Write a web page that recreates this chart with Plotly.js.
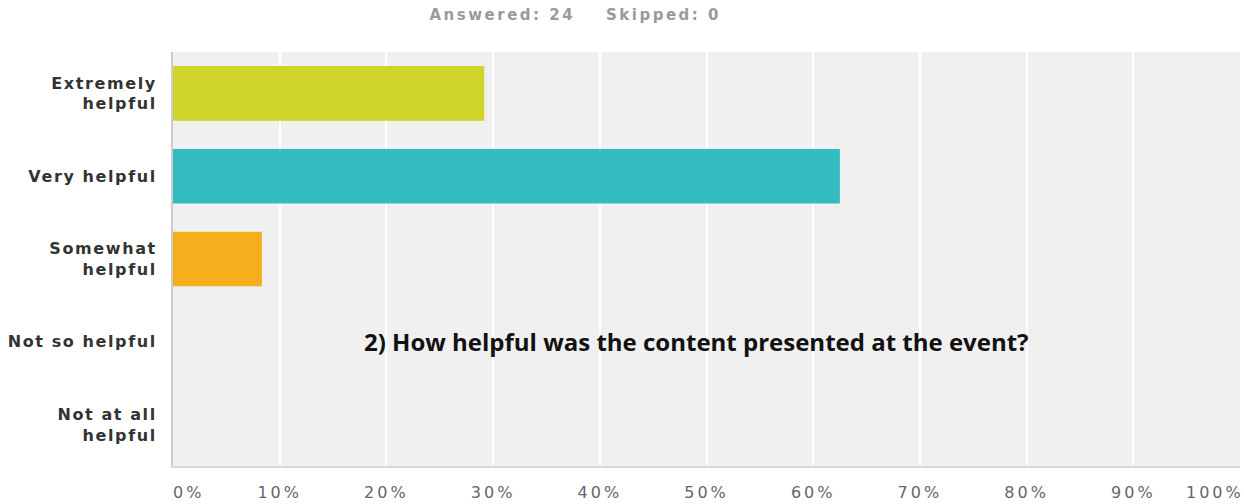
<!DOCTYPE html>
<html>
<head>
<meta charset="utf-8">
<script src="https://cdn.plot.ly/plotly-3.0.1.min.js"></script>
<style>
html,body{margin:0;padding:0;background:#fff;}
#chart{width:1244px;height:504px;}
#chart .ytick text{letter-spacing:1.6px;}
#chart .xtick text{letter-spacing:3px;}
#chart .annotation[data-index="0"] text{letter-spacing:3px;}
#chart .annotation[data-index="1"] text{letter-spacing:3px;}
#chart .annotation[data-index="2"] text{letter-spacing:2.5px;}
</style>
</head>
<body>
<div id="chart"></div>
<script>
// Data
var categories = ["Extremely<br>helpful", "Very helpful", "Somewhat<br>helpful", "Not so helpful", "Not at all<br>helpful"];
var percentValues = [29.17, 62.50, 8.33, 0, 0];
var barColors = ["#cfd42a", "#33bcbf", "#f6ae1e", "#cccccc", "#cccccc"];
var tickValues = [10, 20, 30, 40, 50, 60, 70, 80, 90];
var tickLabels = ["10%", "20%", "30%", "40%", "50%", "60%", "70%", "80%", "90%"];
var firstTickValue = 0;
var firstTickLabel = "0%";
var lastTickValue = 100;
var lastTickLabel = "100%";
var subtitleText = "Answered: 24\u00a0\u00a0\u00a0\u00a0Skipped: 0";
var titleText = "2) How helpful was the content presented at the event?";

var trace = {
  type: "bar",
  orientation: "h",
  y: categories,
  x: percentValues,
  marker: {color: barColors},
  width: 0.66,
  hoverinfo: "none"
};

var layout = {
  width: 1244,
  height: 504,
  margin: {l: 173, r: 4, t: 52, b: 38},
  paper_bgcolor: "#ffffff",
  plot_bgcolor: "#f0f0f0",
  showlegend: false,
  xaxis: {
    range: [0, 100],
    tickvals: tickValues,
    ticktext: tickLabels,
    showgrid: true,
    gridcolor: "#ffffff",
    gridwidth: 2,
    zeroline: false,
    showline: true,
    linecolor: "#d8d8d8",
    linewidth: 2,
    ticks: "outside",
    ticklen: 11,
    tickcolor: "rgba(0,0,0,0)",
    tickfont: {family: "DejaVu Sans", size: 16, color: "#666666"},
    fixedrange: true
  },
  yaxis: {
    categoryorder: "array",
    categoryarray: categories.slice().reverse(),
    showgrid: false,
    zeroline: false,
    showline: true,
    linecolor: "#cccccc",
    linewidth: 2,
    ticks: "",
    ticklabelstandoff: 11,
    tickfont: {family: "DejaVu Sans", size: 16, color: "#333333", weight: "bold"},
    fixedrange: true
  },
  annotations: [
    {
      xref: "x", yref: "paper",
      x: firstTickValue, y: 0,
      yshift: -26, xshift: 1,
      text: firstTickLabel,
      showarrow: false,
      xanchor: "left", yanchor: "middle",
      font: {family: "DejaVu Sans", size: 16, color: "#666666"}
    },
    {
      xref: "x", yref: "paper",
      x: lastTickValue, y: 0,
      yshift: -26,
      text: lastTickLabel,
      showarrow: false,
      xanchor: "right", yanchor: "middle",
      font: {family: "DejaVu Sans", size: 16, color: "#666666"}
    },
    {
      xref: "paper", yref: "paper",
      x: 0.377, y: 1,
      yshift: 37,
      text: subtitleText,
      showarrow: false,
      xanchor: "center", yanchor: "middle",
      font: {family: "DejaVu Sans", size: 15, color: "#9a9a9a", weight: "bold"}
    },
    {
      xref: "paper", yref: "paper",
      x: 0.491, y: 0.30,
      text: titleText,
      showarrow: false,
      xanchor: "center", yanchor: "middle",
      font: {family: "Open Sans", size: 24, color: "#111111", weight: "bold"}
    }
  ]
};

Plotly.newPlot("chart", [trace], layout, {displayModeBar: false, staticPlot: true});
</script>
</body>
</html>
